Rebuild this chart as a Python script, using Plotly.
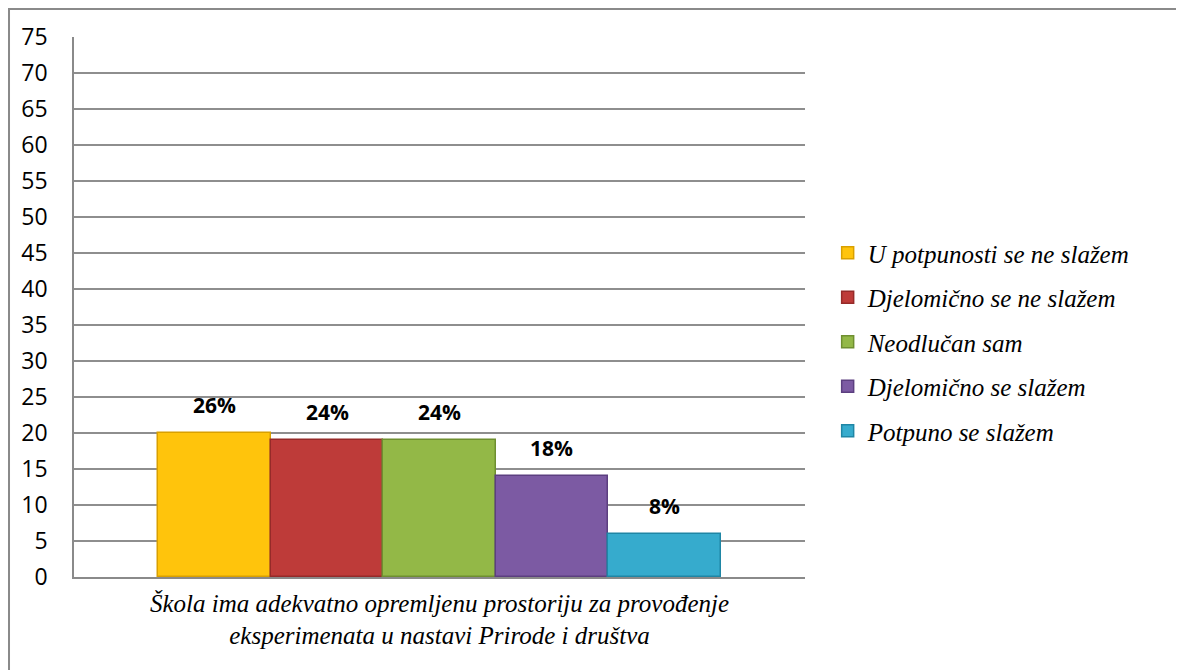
import plotly.graph_objects as go

# answer options (legend) and respondent counts
answers = [
    "U potpunosti se ne slažem",
    "Djelomično se ne slažem",
    "Neodlučan sam",
    "Djelomično se slažem",
    "Potpuno se slažem",
]
counts = [20, 19, 19, 14, 6]
percent_labels = ["26%", "24%", "24%", "18%", "8%"]
bar_colors = ["#FFC40C", "#BE3B39", "#93B847", "#7C5AA3", "#36ABCD"]
edge_colors = ["#D9A000", "#962A29", "#6F8F30", "#5C3F80", "#1F86A5"]
question = "Škola ima adekvatno opremljenu prostoriju za provođenje<br>eksperimenata u nastavi Prirode i društva"
y_ticks = list(range(0, 80, 5))

SERIF = "Liberation Serif, Times New Roman, DejaVu Serif, serif"

fig = go.Figure()
for i, (name, val) in enumerate(zip(answers, counts)):
    fig.add_trace(
        go.Bar(
            x=[i],
            y=[val],
            width=1,
            name=name,
            legendgroup=name,
            marker={"color": bar_colors[i], "line": {"color": edge_colors[i], "width": 1.5}},
            hoverinfo="skip",
        )
    )

for i, (val, lab) in enumerate(zip(counts, percent_labels)):
    fig.add_annotation(
        x=i,
        y=val,
        text=f"<b>{lab}</b>",
        showarrow=False,
        yanchor="bottom",
        yshift=12,
        font={"family": "Open Sans", "size": 21, "color": "#000000"},
    )

# outer chart frame (runs past the right and bottom edges of the picture)
fig.add_shape(
    type="rect",
    xref="paper",
    yref="paper",
    x0=-0.0889,
    x1=1.53,
    y0=-0.2,
    y1=1.0519,
    line={"color": "#8A8A8A", "width": 2},
    fillcolor="rgba(0,0,0,0)",
    layer="below",
)

fig.update_layout(
    width=1184,
    height=670,
    margin={"l": 66, "r": 387, "t": 29, "b": 101},
    plot_bgcolor="white",
    paper_bgcolor="white",
    bargap=0,
    showlegend=True,
    legend={
        "x": 1.031,
        "y": 0.435,
        "xanchor": "left",
        "yanchor": "middle",
        "font": {"family": SERIF, "size": 25, "style": "italic", "color": "#000000"},
        "tracegroupgap": 9,
        "itemclick": False,
    },
    xaxis={
        "range": [-1.25, 5.25],
        "tickvals": [2],
        "ticktext": [question],
        "tickfont": {"family": SERIF, "size": 25, "style": "italic", "color": "#000000"},
        "ticklabelstandoff": 3,
        "showline": True,
        "linecolor": "#8A8A8A",
        "linewidth": 1.5,
        "showgrid": False,
        "zeroline": False,
        "ticks": "",
        "fixedrange": True,
    },
    yaxis={
        "range": [0, 75],
        "tickvals": y_ticks,
        "tickfont": {"family": "Open Sans", "size": 23, "color": "#000000"},
        "showline": True,
        "linecolor": "#8A8A8A",
        "linewidth": 1.5,
        "showgrid": True,
        "gridcolor": "#8E8E8E",
        "gridwidth": 1.5,
        "zeroline": False,
        "ticks": "",
        "ticklabelstandoff": 20,
        "fixedrange": True,
    },
)

fig.write_html("out.html")
